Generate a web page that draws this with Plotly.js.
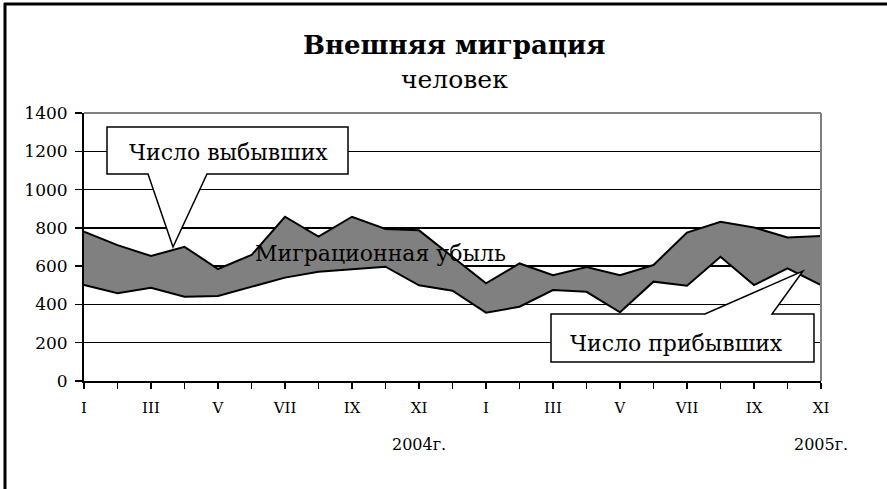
<!DOCTYPE html>
<html>
<head>
<meta charset="utf-8">
<script src="https://cdn.plot.ly/plotly-3.0.1.min.js"></script>
<style>html,body{margin:0;padding:0;background:#fff;}</style>
</head>
<body>
<div id="chart" style="width:887px;height:489px;"></div>
<script>
// Months: Jan 2004 – Nov 2005
const months = ["I","II","III","IV","V","VI","VII","VIII","IX","X","XI","XII",
                "I","II","III","IV","V","VI","VII","VIII","IX","X","XI"];
// Число выбывших (departures)
const departed = [780, 710, 653, 701, 585, 658, 858, 754, 858, 794, 787, 650,
                  510, 614, 553, 595, 553, 606, 775, 832, 802, 750, 757];
// Число прибывших (arrivals)
const arrived  = [501, 458, 487, 440, 444, 492, 540, 571, 583, 597, 500, 472,
                  357, 388, 475, 466, 359, 519, 498, 649, 501, 588, 501];
const yearLabels = ["2004г.", "2005г."];
const yearLabelIdx = [10, 22];

const idx = months.map((m, i) => i);
const tickText = months.map((m, i) => (i % 2 === 0 ? m : ""));

const FONT = "DejaVu Serif, Liberation Serif, serif";

// pixel -> paper helpers (plot area: x 84..821, y 113..381)
const L = 84, R = 821, T = 113, B = 381;
const px = x => (x - L) / (R - L);
const py = y => (B - y) / (B - T);

const traces = [
  {x: idx, y: arrived, type: "scatter", mode: "lines",
   line: {color: "#000", width: 2}, hoverinfo: "skip", showlegend: false},
  {x: idx, y: departed, type: "scatter", mode: "lines", fill: "tonexty",
   fillcolor: "#808080", line: {color: "#000", width: 2}, hoverinfo: "skip", showlegend: false}
];

function path(pts) {
  return "M" + pts.map(p => px(p[0]).toFixed(5) + "," + py(p[1]).toFixed(5)).join(" L") + " Z";
}

const callout1 = [[107,127],[348,127],[348,174],[207,174],[173,247],[148,174],[107,174]];
const callout2 = [[551,314],[705,314],[803,271],[772,314],[814,314],[814,362],[551,362]];

function label(text, x, y, size) {
  return {text: text, xref: "paper", yref: "paper", x: px(x), y: py(y),
          xanchor: "center", yanchor: "middle", showarrow: false,
          font: {family: FONT, size: size, color: "#000"}};
}

const layout = {
  width: 887, height: 489,
  margin: {l: L, r: 887 - R, t: T, b: 489 - B, pad: 0},
  paper_bgcolor: "#fff", plot_bgcolor: "#fff",
  showlegend: false,
  font: {family: FONT, color: "#000"},
  xaxis: {
    range: [0, 22], tickmode: "array", tickvals: idx, ticktext: tickText,
    ticks: "outside", ticklen: 6, tickwidth: 1.5, tickcolor: "#000",
    showline: true, linecolor: "#000", linewidth: 2,
    showgrid: false, zeroline: false,
    tickfont: {family: FONT, size: 15, color: "#000"},
    ticklabelstandoff: 6, fixedrange: true
  },
  yaxis: {
    range: [0, 1400], tick0: 0, dtick: 200,
    ticks: "outside", ticklen: 7, tickwidth: 1.5, tickcolor: "#000",
    showline: true, linecolor: "#000", linewidth: 2,
    showgrid: true, gridcolor: "#000", gridwidth: 1.5, zeroline: false,
    tickfont: {family: FONT, size: 17, color: "#000"},
    ticklabelstandoff: 4, fixedrange: true
  },
  shapes: [
    {type: "line", xref: "paper", yref: "paper", x0: 0, x1: 1, y0: 1, y1: 1,
     line: {color: "#808080", width: 2}},
    {type: "line", xref: "paper", yref: "paper", x0: 1, x1: 1, y0: 0, y1: 1,
     line: {color: "#808080", width: 2}},
    {type: "path", xref: "paper", yref: "paper", path: path(callout1),
     fillcolor: "#fff", line: {color: "#000", width: 1.5}},
    {type: "path", xref: "paper", yref: "paper", path: path(callout2),
     fillcolor: "#fff", line: {color: "#000", width: 1.5}},
    // outer frame (top and left)
    {type: "line", xref: "paper", yref: "paper", x0: px(4), x1: px(887), y0: py(4), y1: py(4),
     line: {color: "#000", width: 3}},
    {type: "line", xref: "paper", yref: "paper", x0: px(5), x1: px(5), y0: py(3), y1: py(489),
     line: {color: "#000", width: 3}}
  ],
  annotations: [
    label("<b>Внешняя миграция</b>", 454, 45, 26),
    label("человек", 454, 79, 25),
    label("Миграционная убыль", 380, 253, 22),
    label("Число выбывших", 228, 152, 22),
    label("Число прибывших", 676, 343, 22),
    ...yearLabels.map((t, i) => ({
      text: t, xref: "x", yref: "paper", x: yearLabelIdx[i], y: py(444),
      xanchor: "center", yanchor: "middle",
      showarrow: false, font: {family: FONT, size: 16, color: "#000"}
    }))
  ]
};

Plotly.newPlot("chart", traces, layout, {displayModeBar: false, staticPlot: true});
</script>
</body>
</html>
